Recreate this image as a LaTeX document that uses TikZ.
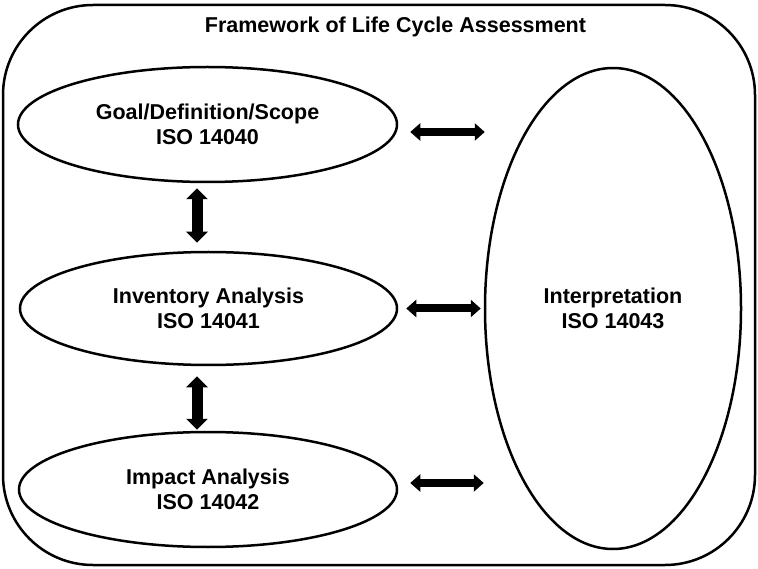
\documentclass[tikz,border=0pt]{standalone}
\usepackage{fontspec}
\setmainfont{Liberation Sans}
\usetikzlibrary{arrows.meta,shapes.geometric}

\begin{document}
\begin{tikzpicture}[x=1pt,y=-1pt,
  stage/.style={draw, ellipse, line width=2.5pt, inner sep=0pt, align=center,
    font=\bfseries\fontsize{21.5}{25}\selectfont},
  harrow/.style={line width=8pt, {Triangle[width=17pt,length=10pt]}-{Triangle[width=17pt,length=10pt]}},
  varrow/.style={line width=11pt, {Triangle[width=21pt,length=11pt]}-{Triangle[width=21pt,length=11pt]}}]
\useasboundingbox (0,0) rectangle (758,569);
\draw[line width=2.5pt, rounded corners=90pt] (3,5) rectangle (755,565);
\node[font=\bfseries\fontsize{21.5}{24}\selectfont] (title) at (395.5,27) {Framework of Life Cycle Assessment};
\node[stage, minimum width=379pt, minimum height=115pt] (goal) at (207.5,124.5) {Goal/Definition/Scope\\ISO 14040};
\node[stage, minimum width=377pt, minimum height=113pt] (inv) at (208.5,308.5) {Inventory Analysis\\ISO 14041};
\node[stage, minimum width=378pt, minimum height=115pt] (imp) at (208,489.5) {Impact Analysis\\ISO 14042};
\node[stage, minimum width=256pt, minimum height=481pt] (interp) at (613,308.5) {Interpretation\\ISO 14043};
% links to interpretation
\draw[harrow, shorten <=12pt, shorten >=-1pt] ([yshift=-7.5pt]goal.east) -- ([yshift=-7.5pt]goal.east -| interp.west);
\draw[harrow, shorten <=8pt, shorten >=3pt] (inv.east) -- (inv.east -| interp.west);
\draw[harrow, shorten <=12pt, shorten >=0pt] ([yshift=6.5pt]imp.east) -- ([yshift=6.5pt]imp.east -| interp.west);
% links between stages
\draw[varrow, shorten <=5pt, shorten >=8pt] ([xshift=-10.5pt]goal.south) -- ([xshift=-10.5pt]goal.south |- inv.north);
\draw[varrow, shorten <=10pt, shorten >=1pt] ([xshift=-11.5pt]inv.south) -- ([xshift=-11.5pt]inv.south |- imp.north);
\end{tikzpicture}
\end{document}
